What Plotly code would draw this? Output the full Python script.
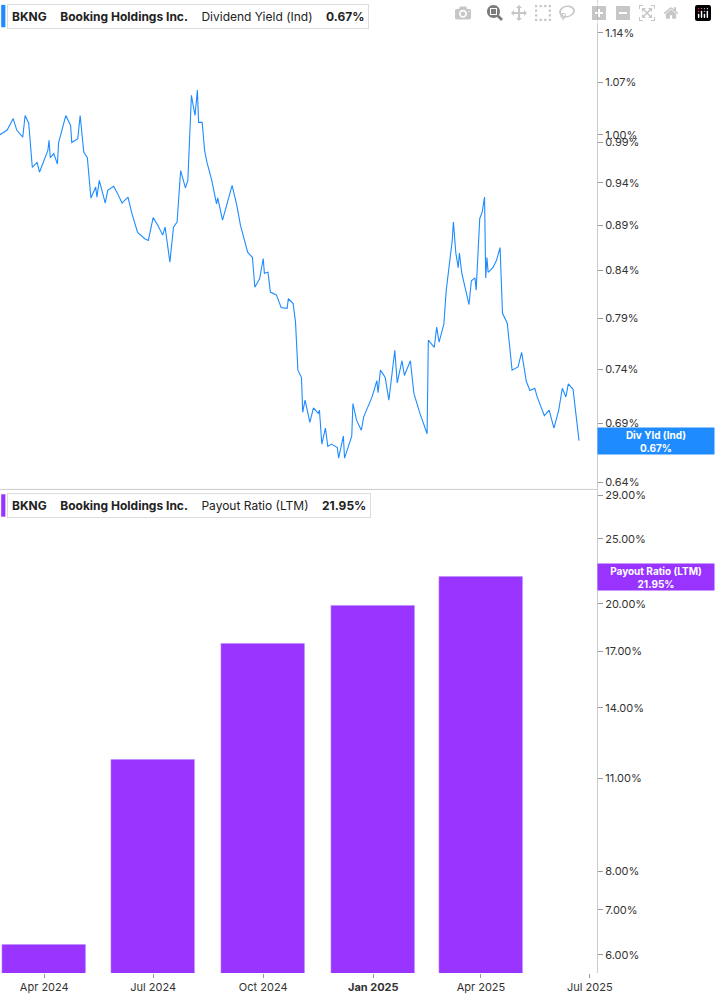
import math
import plotly.graph_objects as go
from plotly.subplots import make_subplots

# Dividend yield (%)
yield_dates = [
    '2024-02-24', '2024-03-01', '2024-03-06', '2024-03-09', '2024-03-14', '2024-03-16', '2024-03-19',
    '2024-03-22', '2024-03-26', '2024-03-28', '2024-04-04', '2024-04-05', '2024-04-06', '2024-04-09',
    '2024-04-12', '2024-04-13', '2024-04-19', '2024-04-23', '2024-04-24', '2024-04-29', '2024-05-01',
    '2024-05-04', '2024-05-07', '2024-05-10', '2024-05-14', '2024-05-15', '2024-05-17', '2024-05-22',
    '2024-05-24', '2024-05-29', '2024-06-01', '2024-06-05', '2024-06-10', '2024-06-13', '2024-06-18',
    '2024-06-24', '2024-06-27', '2024-07-01', '2024-07-05', '2024-07-09', '2024-07-11', '2024-07-15',
    '2024-07-18', '2024-07-21', '2024-07-24', '2024-07-28', '2024-07-30', '2024-08-02', '2024-08-05',
    '2024-08-07', '2024-08-08', '2024-08-11', '2024-08-13', '2024-08-15', '2024-08-19', '2024-08-23',
    '2024-08-24', '2024-08-27', '2024-08-28', '2024-09-05', '2024-09-09', '2024-09-12', '2024-09-17',
    '2024-09-18', '2024-09-22', '2024-09-24', '2024-09-28', '2024-10-01', '2024-10-02', '2024-10-05',
    '2024-10-07', '2024-10-12', '2024-10-16', '2024-10-21', '2024-10-22', '2024-10-26', '2024-10-28',
    '2024-10-30', '2024-11-02', '2024-11-03', '2024-11-05', '2024-11-09', '2024-11-12', '2024-11-16',
    '2024-11-17', '2024-11-19', '2024-11-22', '2024-11-24', '2024-11-27', '2024-12-02', '2024-12-03',
    '2024-12-07', '2024-12-08', '2024-12-14', '2024-12-15', '2024-12-18', '2024-12-22', '2024-12-24',
    '2024-12-31', '2025-01-04', '2025-01-05', '2025-01-07', '2025-01-11', '2025-01-14', '2025-01-19',
    '2025-01-21', '2025-01-25', '2025-01-27', '2025-02-01', '2025-02-04', '2025-02-09', '2025-02-15',
    '2025-02-16', '2025-02-21', '2025-02-23', '2025-02-25', '2025-03-01', '2025-03-03', '2025-03-08',
    '2025-03-09', '2025-03-11', '2025-03-13', '2025-03-14', '2025-03-16', '2025-03-22', '2025-03-24',
    '2025-03-27', '2025-03-28', '2025-03-31', '2025-04-02', '2025-04-04', '2025-04-05', '2025-04-06',
    '2025-04-07', '2025-04-11', '2025-04-14', '2025-04-17', '2025-04-19', '2025-04-23', '2025-04-26',
    '2025-04-27', '2025-05-02', '2025-05-05', '2025-05-09', '2025-05-12', '2025-05-16', '2025-05-18',
    '2025-05-24', '2025-05-28', '2025-06-01', '2025-06-05', '2025-06-08', '2025-06-11', '2025-06-13',
    '2025-06-17', '2025-06-19', '2025-06-22',
]
yield_values = [
    1.000, 1.006, 1.021, 1.006, 0.997, 1.025, 1.015,
    0.959, 0.965, 0.953, 0.980, 0.993, 0.971, 0.976,
    0.963, 0.990, 1.025, 1.012, 0.990, 0.995, 1.025,
    0.978, 0.971, 0.922, 0.935, 0.923, 0.943, 0.916,
    0.931, 0.936, 0.928, 0.916, 0.923, 0.905, 0.882,
    0.875, 0.873, 0.899, 0.890, 0.879, 0.888, 0.849,
    0.888, 0.894, 0.955, 0.934, 0.943, 1.052, 1.025,
    1.059, 1.016, 1.016, 0.980, 0.965, 0.943, 0.915,
    0.922, 0.899, 0.896, 0.937, 0.913, 0.890, 0.867,
    0.860, 0.854, 0.822, 0.831, 0.853, 0.837, 0.838,
    0.817, 0.814, 0.801, 0.800, 0.810, 0.805, 0.786,
    0.739, 0.732, 0.700, 0.711, 0.691, 0.704, 0.699,
    0.702, 0.672, 0.686, 0.670, 0.672, 0.669, 0.660,
    0.679, 0.660, 0.679, 0.708, 0.693, 0.684, 0.696,
    0.714, 0.729, 0.718, 0.739, 0.732, 0.711, 0.758,
    0.727, 0.748, 0.734, 0.748, 0.717, 0.699, 0.681,
    0.768, 0.761, 0.781, 0.766, 0.784, 0.819, 0.873,
    0.894, 0.859, 0.843, 0.859, 0.837, 0.804, 0.829,
    0.832, 0.819, 0.898, 0.905, 0.923, 0.832, 0.854,
    0.838, 0.843, 0.851, 0.865, 0.795, 0.785, 0.753,
    0.739, 0.742, 0.756, 0.728, 0.720, 0.722, 0.714,
    0.697, 0.702, 0.686, 0.702, 0.722, 0.714, 0.726,
    0.721, 0.702, 0.675,
]

# Payout ratio (LTM, %) by quarter
payout_dates = ['2024-04-01', '2024-07-01', '2024-10-01', '2025-01-01', '2025-04-01']
payout_values = [6.23, 11.74, 17.47, 19.90, 21.95]

yield_ticks = [1.14, 1.07, 1.00, 0.99, 0.94, 0.89, 0.84, 0.79, 0.74, 0.69, 0.64]
payout_ticks = [29, 25, 20, 17, 14, 11, 8, 7, 6]
x_ticks = ['2024-04-01', '2024-07-01', '2024-10-01', '2025-01-01', '2025-04-01', '2025-07-01']
x_labels = ['Apr 2024', 'Jul 2024', 'Oct 2024', '<b>Jan 2025</b>', 'Apr 2025', 'Jul 2025']

BLUE = '#1e8cff'
PURPLE = '#9933ff'

fig = make_subplots(rows=2, cols=1, shared_xaxes=True, vertical_spacing=0,
                    row_heights=[0.503, 0.497])

fig.add_trace(go.Scatter(x=yield_dates, y=yield_values, mode='lines',
                         line=dict(color=BLUE, width=1.1), showlegend=False), row=1, col=1)
fig.add_trace(go.Bar(x=payout_dates, y=payout_values, marker_color=PURPLE,
                     width=70 * 86400000, showlegend=False), row=2, col=1)

xrange = ['2024-02-24', '2025-07-07']
fig.update_xaxes(range=xrange, showgrid=False, zeroline=False, showline=False)
fig.update_xaxes(tickvals=x_ticks, ticktext=x_labels, ticks='outside', ticklen=4,
                 tickcolor='#999', tickfont=dict(size=11, color='#333'), row=2, col=1)

fig.update_yaxes(type='log', side='right', range=[math.log10(0.634), math.log10(1.189)],
                 tickvals=yield_ticks, ticktext=[f'{v:.2f}%' for v in yield_ticks],
                 row=1, col=1)
fig.update_yaxes(type='log', side='right', range=[math.log10(5.64), math.log10(29.6)],
                 tickvals=payout_ticks, ticktext=[f'{v:.2f}%' for v in payout_ticks],
                 row=2, col=1)
fig.update_yaxes(showgrid=False, zeroline=False, showline=True, linecolor='#ccc',
                 ticks='outside', ticklen=5, tickcolor='#999',
                 tickfont=dict(size=11, color='#333'))

# separator between panels
fig.add_shape(type='line', xref='paper', yref='paper', x0=0, x1=1, y0=0.497, y1=0.497,
              line=dict(color='#ccc', width=1))

title_font = dict(family='Inter, Roboto, sans-serif', size=12, color='#222')
for y, color, text in [
    (1.0, BLUE, '<b>BKNG</b>    <b>Booking Holdings Inc.</b>    Dividend Yield (Ind)    <b>0.67%</b>'),
    (0.497, PURPLE, '<b>BKNG</b>    <b>Booking Holdings Inc.</b>    Payout Ratio (LTM)    <b>21.95%</b>'),
]:
    fig.add_annotation(xref='paper', yref='paper', x=0.012, y=y - 0.004, xanchor='left',
                       yanchor='top', text=text, showarrow=False, font=title_font,
                       bgcolor='white', bordercolor='#ddd', borderwidth=1, borderpad=4)
    fig.add_shape(type='rect', xref='paper', yref='paper', x0=0.002, x1=0.009,
                  y0=y - 0.028, y1=y - 0.005, fillcolor=color, line_width=0)

# value badges on the right axis
fig.add_annotation(xref='paper', yref='y', x=1.0, y=math.log10(0.675), xanchor='left',
                   text='<b>Div Yld (Ind)<br>0.67%</b>', showarrow=False, bgcolor=BLUE,
                   font=dict(size=10, color='white'), width=114, height=24, borderpad=1)
fig.add_annotation(xref='paper', yref='y2', x=1.0, y=math.log10(21.95), xanchor='left',
                   text='<b>Payout Ratio (LTM)<br>21.95%</b>', showarrow=False, bgcolor=PURPLE,
                   font=dict(size=10, color='white'), width=114, height=24, borderpad=1)

fig.update_layout(width=717, height=1005, margin=dict(l=0, r=120, t=0, b=32),
                  plot_bgcolor='white', paper_bgcolor='white', bargap=0,
                  font=dict(family='Inter, Roboto, sans-serif'))

fig.write_html('out.html', post_script="document.body.style.margin='0';")
